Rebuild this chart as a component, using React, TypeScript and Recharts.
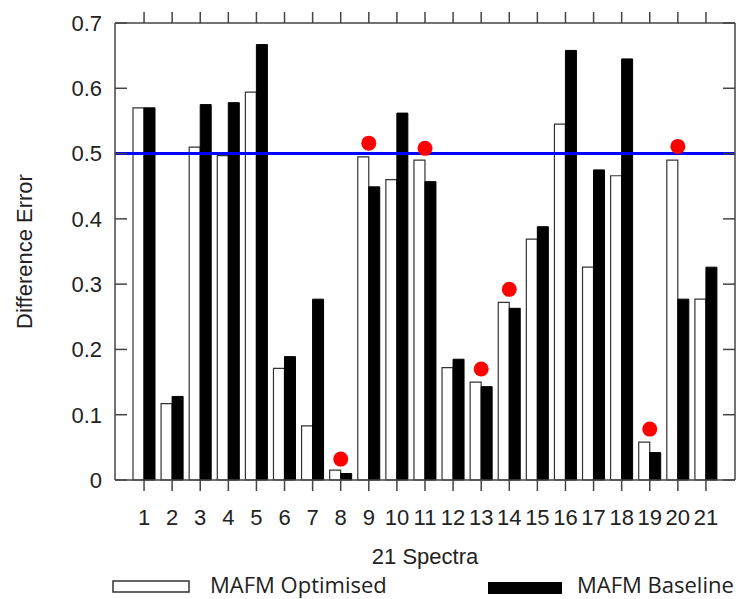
import React from 'react';
import { ComposedChart, Bar, Line, XAxis, YAxis, ReferenceLine } from 'recharts';

const categories = ['1','2','3','4','5','6','7','8','9','10','11','12','13','14','15','16','17','18','19','20','21'];
const optimised = [0.570, 0.117, 0.510, 0.497, 0.594, 0.171, 0.083, 0.015, 0.495, 0.460, 0.490, 0.172, 0.150, 0.272, 0.369, 0.545, 0.326, 0.466, 0.058, 0.490, 0.277];
const baseline = [0.570, 0.128, 0.575, 0.578, 0.667, 0.189, 0.277, 0.010, 0.449, 0.562, 0.457, 0.185, 0.143, 0.263, 0.388, 0.658, 0.475, 0.645, 0.042, 0.277, 0.326];
const markers: (number | null)[] = [null, null, null, null, null, null, null, 0.032, 0.516, null, 0.508, null, 0.170, 0.292, null, null, null, null, 0.078, 0.511, null];
const yTicks = [0, 0.1, 0.2, 0.3, 0.4, 0.5, 0.6, 0.7];
const threshold = 0.5;

const data = categories.map((name, i) => ({
  name,
  optimised: optimised[i],
  baseline: baseline[i],
  marker: markers[i],
}));

const AXIS = '#444';
const FONT = '"Liberation Sans", Arial, sans-serif';
const EmptyTick = () => <g />;
const TICK_MARGIN = 13;
const INNER_TICK = 12;

const LeftTick = (props: any) => {
  const { x, y, payload } = props;
  const v = payload.value as number;
  const axisX = x + TICK_MARGIN;
  return (
    <g>
      <line x1={axisX} y1={y} x2={axisX + INNER_TICK} y2={y} stroke={AXIS} strokeWidth={1.5} />
      <text x={x} y={y} dy="0.355em" textAnchor="end" fontSize={22} fontFamily={FONT} fill="#222">
        {v === 0 ? '0' : v.toFixed(1)}
      </text>
    </g>
  );
};

export default function App() {
  return (
    <div style={{ position: 'absolute', left: 0, top: 0, width: 739, height: 599, background: '#fff' }}>
      <ComposedChart
        width={739}
        height={599}
        data={data}
        margin={{ top: 22, right: 4, left: 0, bottom: 0 }}
        barGap={0}
      >
        <XAxis
          xAxisId="bottom"
          dataKey="name"
          type="category"
          height={119}
          padding={{ left: 15, right: 15 }}
          tickSize={11}
          tickMargin={18}
          interval={0}
          stroke={AXIS}
          strokeWidth={1.5}
          tick={{ fill: '#222', fontSize: 22, fontFamily: FONT }}
          label={{
            content: (props: any) => {
              const vb = props.viewBox || {};
              return (
                <text x={vb.x + vb.width / 2} y={564} textAnchor="middle" fontSize={22} fontFamily={FONT} fill="#222">
                  21 Spectra
                </text>
              );
            },
          }}
        />
        <XAxis
          xAxisId="top"
          dataKey="name"
          type="category"
          orientation="top"
          height={1}
          padding={{ left: 15, right: 15 }}
          tickSize={11}
          interval={0}
          stroke={AXIS}
          strokeWidth={1.5}
          tick={EmptyTick}
        />
        <YAxis
          yAxisId="left"
          width={115}
          domain={[0, 0.7]}
          ticks={yTicks}
          tickLine={false}
          tickSize={0}
          tickMargin={TICK_MARGIN}
          stroke={AXIS}
          strokeWidth={1.5}
          tick={LeftTick}
          label={{
            content: (props: any) => {
              const vb = props.viewBox || {};
              const cx = 32;
              const cy = vb.y + vb.height / 2;
              return (
                <text x={cx} y={cy} transform={`rotate(-90, ${cx}, ${cy})`} textAnchor="middle" fontSize={22} fontFamily={FONT} fill="#222">
                  Difference Error
                </text>
              );
            },
          }}
        />
        <YAxis
          yAxisId="right"
          orientation="right"
          mirror
          width={20}
          domain={[0, 0.7]}
          ticks={yTicks}
          tickSize={INNER_TICK}
          stroke={AXIS}
          strokeWidth={1.5}
          tick={EmptyTick}
        />
        <Bar xAxisId="bottom" yAxisId="left" dataKey="optimised" barSize={11} fill="#ffffff" stroke="#333" strokeWidth={1.2} isAnimationActive={false} />
        <Bar xAxisId="bottom" yAxisId="left" dataKey="baseline" barSize={11} fill="#000000" stroke="#000" strokeWidth={1} isAnimationActive={false} />
        <ReferenceLine xAxisId="bottom" yAxisId="left" y={threshold} stroke="#0000ff" strokeWidth={3} />
        <Line
          xAxisId="bottom"
          yAxisId="right"
          dataKey="marker"
          stroke="none"
          strokeWidth={0}
          dot={{ r: 7.5, fill: '#ff0000', stroke: 'none' }}
          activeDot={false}
          legendType="none"
          isAnimationActive={false}
        />
      </ComposedChart>
      <svg width={739} height={599} style={{ position: 'absolute', left: 0, top: 0, pointerEvents: 'none' }}>
        <rect x={113} y={581} width={76} height={11} fill="#fff" stroke="#333" strokeWidth={1.5} />
        <text x={210} y={593} fontSize={22} fontFamily='"Open Sans", sans-serif' fill="#222">MAFM Optimised</text>
        <rect x={488} y={582} width={74} height={12} fill="#000" />
        <text x={577} y={593} fontSize={22} fontFamily='"Open Sans", sans-serif' fill="#222">MAFM Baseline</text>
      </svg>
    </div>
  );
}
